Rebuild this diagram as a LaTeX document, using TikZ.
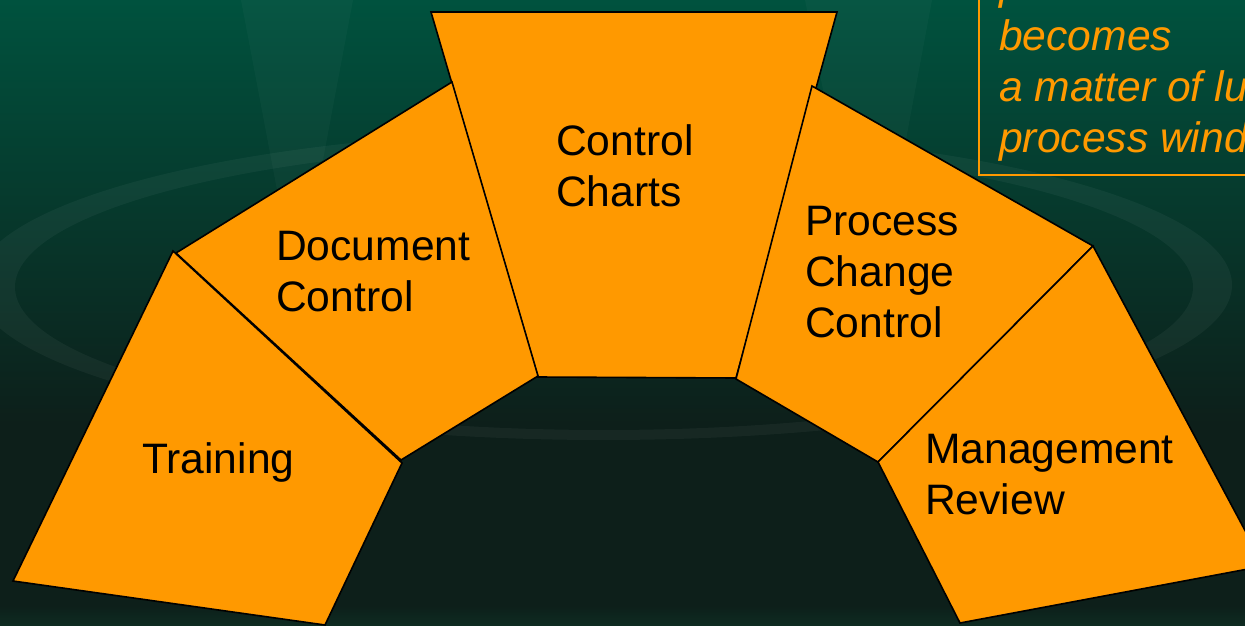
\documentclass[tikz,border=0pt]{standalone}
\usepackage{fontspec}
\setmainfont{Liberation Sans}
\definecolor{orng}{RGB}{255,153,0}
\definecolor{bgtop}{RGB}{0,82,62}
\definecolor{bgbot}{RGB}{13,31,26}
\definecolor{bgglow}{RGB}{14,44,34}
\tikzset{
  block/.style={fill=orng, draw=black, line width=1.6pt, line join=miter},
  lbl/.style={anchor=base west, inner sep=0pt, align=left, text=black,
    font=\fontsize{42.6}{51}\selectfont},
  note/.style={anchor=base west, inner sep=0pt, align=left, text=orng,
    font=\fontsize{42.6}{51}\selectfont\itshape},
  glow/.style={fill=white, opacity=0.045},
}
\begin{document}
\begin{tikzpicture}[x=1pt, y=-1pt]
\useasboundingbox (0,0) rectangle (1245,626);
\clip (0,0) rectangle (1245,626);
% background
\shade[top color=bgtop, bottom color=bgbot] (0,0) rectangle (1245,425);
\fill[bgbot] (0,424) rectangle (1245,626);
\shade[top color=bgbot, bottom color=bgglow] (0,606) rectangle (1245,626);
% faint ring and wedges
\fill[glow, even odd rule] (603.5,285) ellipse [x radius=628.5pt, y radius=155pt]
  (604,287) ellipse [x radius=589pt, y radius=143pt];
\fill[white, opacity=0.028] (241,0) -- (353,0) -- (323,160) -- (277,190) -- cycle;
\fill[white, opacity=0.028] (805,0) -- (932,0) -- (905,145) -- (825,100) -- cycle;
% note box
\draw[orng, line width=2pt] (979,-10) rectangle (1270,175);
\node[note] (note) at (999,152) {predictable\\becomes\\a matter of lu\\process wind};
% blocks
\coordinate (cc1) at (431,12);  \coordinate (cc2) at (837,12);
\coordinate (cc3) at (736,378); \coordinate (cc4) at (538,377);
\coordinate (dc1) at (176,253); \coordinate (dc2) at (452,82);
\coordinate (dc3) at (538,376); \coordinate (dc4) at (401,460);
\coordinate (pc1) at (812,86);  \coordinate (pc2) at (1093,246);
\coordinate (pc3) at (878,462); \coordinate (pc4) at (736,379);
\coordinate (tr1) at (173,251); \coordinate (tr2) at (402,463);
\coordinate (tr3) at (325,625); \coordinate (tr4) at (13,581);
\coordinate (mr1) at (1093,246); \coordinate (mr2) at (1264,566);
\coordinate (mr3) at (960,623);  \coordinate (mr4) at (878,462);
\draw[block] (cc1) -- (cc2) -- (cc3) -- (cc4) -- cycle;
\draw[block] (dc1) -- (dc2) -- (dc3) -- (dc4) -- cycle;
\draw[block] (pc1) -- (pc2) -- (pc3) -- (pc4) -- cycle;
\draw[block] (tr1) -- (tr2) -- (tr3) -- (tr4) -- cycle;
\draw[block] (mr1) -- (mr2) -- (mr3) -- (mr4) -- cycle;
% labels (anchor base = last line's baseline)
\node[lbl] (cclbl) at (556,206) {Control\\Charts};
\node[lbl] (dclbl) at (276,311) {Document\\Control};
\node[lbl] (trlbl) at (142,473) {Training};
\node[lbl] (pclbl) at (805,337) {Process\\Change\\Control};
\node[lbl] (mrlbl) at (925,514) {Management\\Review};
\end{tikzpicture}
\end{document}
